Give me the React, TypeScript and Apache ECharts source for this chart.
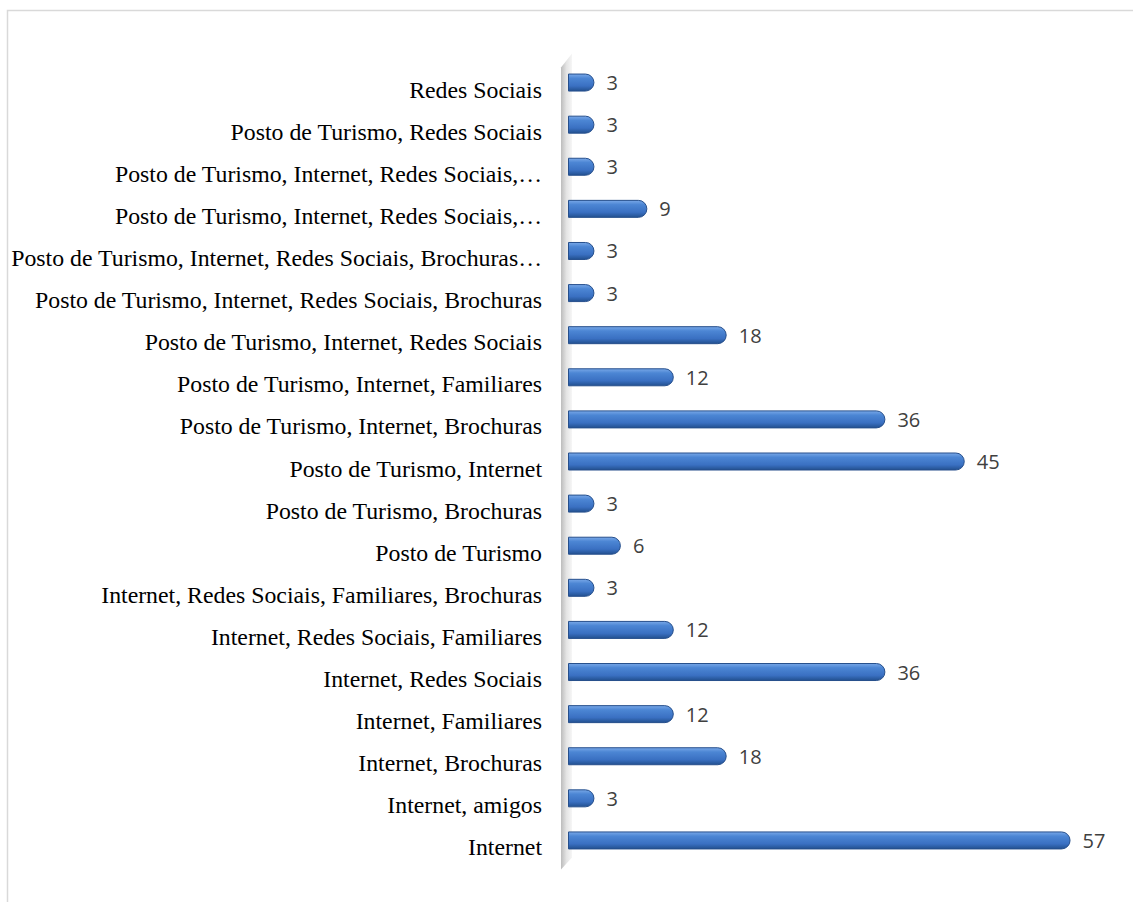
import React, { useEffect, useRef } from "react";
import * as echarts from "echarts";

const categories = [
  "Internet",
  "Internet, amigos",
  "Internet, Brochuras",
  "Internet, Familiares",
  "Internet, Redes Sociais",
  "Internet, Redes Sociais, Familiares",
  "Internet, Redes Sociais, Familiares, Brochuras",
  "Posto de Turismo",
  "Posto de Turismo, Brochuras",
  "Posto de Turismo, Internet",
  "Posto de Turismo, Internet, Brochuras",
  "Posto de Turismo, Internet, Familiares",
  "Posto de Turismo, Internet, Redes Sociais",
  "Posto de Turismo, Internet, Redes Sociais, Brochuras",
  "Posto de Turismo, Internet, Redes Sociais, Brochuras…",
  "Posto de Turismo, Internet, Redes Sociais,…",
  "Posto de Turismo, Internet, Redes Sociais,…",
  "Posto de Turismo, Redes Sociais",
  "Redes Sociais",
];

const values = [57, 3, 18, 12, 36, 12, 3, 6, 3, 45, 36, 12, 18, 3, 3, 9, 3, 3, 3];

const xMax = 60;

export default function App() {
  const ref = useRef<HTMLDivElement>(null);

  useEffect(() => {
    document.body.style.margin = "0";
    if (!ref.current) return;
    const chart = echarts.init(ref.current, null, { renderer: "svg" });
    const option: any = {
      animation: false,
      backgroundColor: "#ffffff",
      grid: { left: 568, top: 61.5, height: 800, width: 529, containLabel: false },
      xAxis: {
        type: "value",
        min: 0,
        max: xMax,
        show: false,
      },
      yAxis: {
        type: "category",
        data: categories,
        axisLine: { show: false },
        axisTick: { show: false },
        axisLabel: {
          margin: 26,
          fontFamily: "Liberation Serif",
          fontSize: 23.8,
          color: "#000000",
          verticalAlign: "top",
          lineHeight: 14,
        },
        splitLine: { show: false },
      },
      series: [
        {
          type: "bar",
          data: values,
          barWidth: 18,
          itemStyle: {
            color: new echarts.graphic.LinearGradient(0, 0, 0, 1, [
              { offset: 0, color: "#79a8e8" },
              { offset: 0.25, color: "#4c86d4" },
              { offset: 0.7, color: "#3a70c2" },
              { offset: 1, color: "#22508f" },
            ]),
            borderColor: "#264f8c",
            borderWidth: 1,
            borderRadius: [0, 9, 9, 0],
          },
          label: {
            show: true,
            position: "right",
            distance: 12,
            fontFamily: "Open Sans",
            fontSize: 20,
            color: "#404040",
            padding: [4, 0, 0, 0],
          },
        },
      ],
    };
    chart.setOption(option);

    const top = chart.convertToPixel({ yAxisIndex: 0 }, categories.length - 1) as number;
    const bottom = chart.convertToPixel({ yAxisIndex: 0 }, 0) as number;
    const x0 = chart.convertToPixel({ xAxisIndex: 0 }, 0) as number;
    const half = (bottom - top) / (categories.length - 1) / 2;
    chart.setOption({
      graphic: [
        {
          type: "rect",
          shape: { x: 7.5, y: 10.5, width: 1200, height: 1000 },
          style: { fill: "none", stroke: "#d9d9d9", lineWidth: 1.5 },
          silent: true,
        },
        {
          type: "polygon",
          shape: {
            points: [
              [x0 - 7, top - half + 6],
              [x0 + 4, top - half - 8],
              [x0 + 4, bottom + half - 4],
              [x0 - 7, bottom + half + 8],
            ],
          },
          style: {
            fill: new echarts.graphic.LinearGradient(0, 0, 1, 0, [
              { offset: 0, color: "#bcbcbc" },
              { offset: 0.5, color: "#e4e4e4" },
              { offset: 1, color: "#f6f6f6" },
            ]),
          },
          z: -1,
          silent: true,
        },
      ],
    });

    return () => chart.dispose();
  }, []);

  return <div ref={ref} style={{ width: 1133, height: 902 }} />;
}
